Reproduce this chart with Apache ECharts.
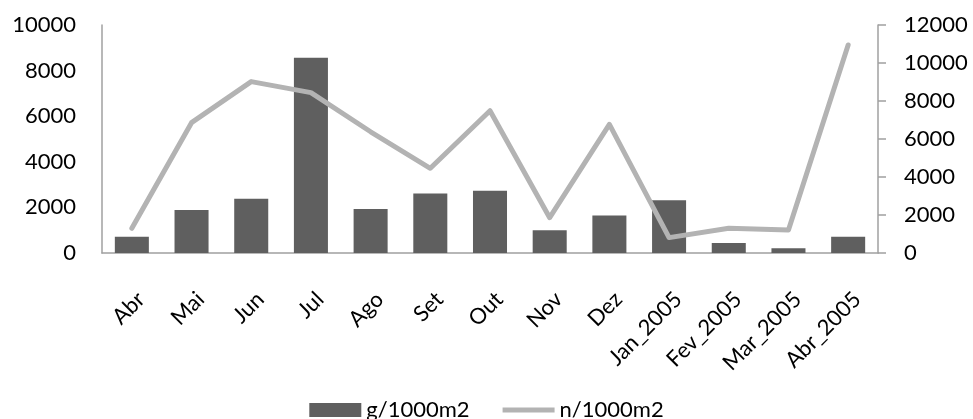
<!DOCTYPE html>
<html>
<head>
<meta charset="utf-8">
<script src="https://cdn.jsdelivr.net/npm/echarts@6/dist/echarts.min.js"></script>
<style>
html,body{margin:0;padding:0;background:#fff;}
#chart{width:973px;height:419px;}
</style>
</head>
<body>
<div id="chart"></div>
<script>
var categories = ['Abr','Mai','Jun','Jul','Ago','Set','Out','Nov','Dez','Jan_2005','Fev_2005','Mar_2005','Abr_2005'];
var gValues = [715, 1890, 2380, 8560, 1930, 2615, 2730, 1000, 1650, 2310, 440, 205, 715];
var nValues = [1300, 6860, 9020, 8440, 6380, 4460, 7490, 1860, 6770, 810, 1300, 1210, 10950];
var leftTicks = {min: 0, max: 10000, interval: 2000};
var rightTicks = {min: 0, max: 12000, interval: 2000};

var FONT = 'Lato';
var plain = function (v) { return String(v); };
var chart = echarts.init(document.getElementById('chart'));
chart.setOption({
  animation: false,
  textStyle: {fontFamily: FONT},
  grid: {left: 102, right: 95, top: 25, bottom: 166},
  legend: {
    top: 394,
    left: 'center',
    itemWidth: 52,
    itemHeight: 14,
    itemGap: 33,
    textStyle: {fontFamily: FONT, fontSize: 22, color: '#000'},
    data: [
      {name: 'g/1000m2', icon: 'rect'},
      {name: 'n/1000m2', icon: 'path://M0 0H52V5H0Z'}
    ]
  },
  xAxis: {
    type: 'category',
    data: categories,
    axisLine: {lineStyle: {color: '#a0a0a0', width: 1.5}},
    axisTick: {show: false},
    axisLabel: {
      rotate: 45,
      margin: 52,
      padding: [0, -13, 0, 0],
      interval: 0,
      fontFamily: FONT,
      fontSize: 22,
      color: '#000'
    }
  },
  yAxis: [
    {
      type: 'value',
      min: leftTicks.min, max: leftTicks.max, interval: leftTicks.interval,
      axisLine: {show: true, lineStyle: {color: '#a0a0a0', width: 1.5}},
      axisTick: {show: false},
      splitLine: {show: false},
      axisLabel: {margin: 26, fontFamily: FONT, fontSize: 22, color: '#000', formatter: plain}
    },
    {
      type: 'value',
      position: 'right',
      min: rightTicks.min, max: rightTicks.max, interval: rightTicks.interval,
      axisLine: {show: true, lineStyle: {color: '#a0a0a0', width: 1.5}},
      axisTick: {show: true, length: 8, lineStyle: {color: '#a0a0a0', width: 1.5}},
      splitLine: {show: false},
      axisLabel: {margin: 26, fontFamily: FONT, fontSize: 22, color: '#000', formatter: plain}
    }
  ],
  series: [
    {
      name: 'g/1000m2',
      type: 'bar',
      yAxisIndex: 0,
      data: gValues,
      barWidth: '57%',
      itemStyle: {color: '#5f5f5f'}
    },
    {
      name: 'n/1000m2',
      type: 'line',
      yAxisIndex: 1,
      data: nValues,
      symbol: 'none',
      lineStyle: {color: '#b3b3b3', width: 5, cap: 'round', join: 'round'},
      itemStyle: {color: '#b3b3b3'}
    }
  ]
});
</script>
</body>
</html>
